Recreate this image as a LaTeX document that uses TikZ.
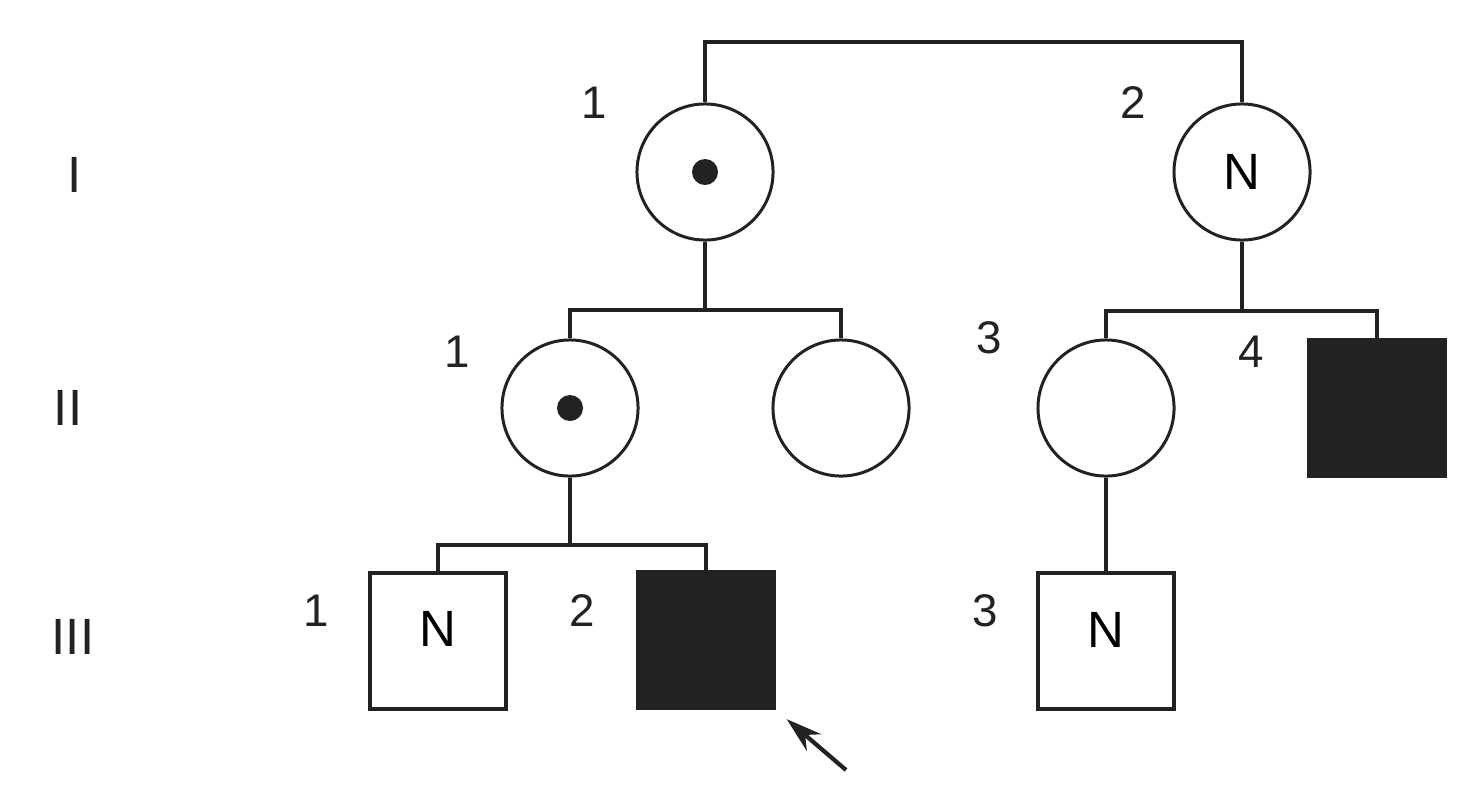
\documentclass[tikz,border=0pt]{standalone}
\usepackage{fontspec}
\setmainfont{Liberation Sans}
\usepackage{xcolor}
\usetikzlibrary{positioning}
\usetikzlibrary{arrows.meta}
\definecolor{ink}{RGB}{34,34,34}

\begin{document}
\begin{tikzpicture}[x=0.01cm, y=-0.01cm, line width=1.1pt, draw=ink,
    female/.style={draw=ink, circle, line width=0.85pt, minimum size=1.36cm, inner sep=0pt, font=\fontsize{14.5}{16}\selectfont},
    male/.style={draw=ink, rectangle, line width=1.1pt, minimum size=1.36cm, inner sep=0pt, font=\fontsize{14.5}{16}\selectfont},
    affected/.style={fill=ink},
    dot/.style={circle, fill=ink, minimum size=0.26cm, inner sep=0pt},
    num/.style={text=ink, font=\fontsize{13}{15}\selectfont},
    gen/.style={text=ink, font=\fontsize{14.5}{16}\selectfont}]
    \useasboundingbox (0,0) rectangle (1474,800);

    % Generation labels
    \node (genI) [gen] at (75,175) {I};
    \node (genII) [gen] at (68,408) {II};
    \node (genIII) [gen] at (73,637) {III};

    % Generation I
    \node (I1) [female] at (705,172) {};
    \node (I1dot) [dot] at (I1) {};
    \node (I2) [female] at (1242,172) {N};
    \node (numI1) [num] at (594,103) {1};
    \node (numI2) [num] at (1133,103) {2};

    % Generation II
    \node (II1) [female] at (570,408) {};
    \node (II1dot) [dot] at (II1) {};
    \node (II2) [female] at (841,408) {};
    \node (II3) [female] at (1106,408) {};
    \node (II4) [male, affected] at (1377,408) {};
    \node (numII1) [num] at (457,352) {1};
    \node (numII3) [num] at (989,338) {3};
    \node (numII4) [num] at (1251,352) {4};

    % Generation III
    \node (III1) [male] at (438,641) {\raisebox{0.9ex}{N}\hspace{0.2cm}};
    \node (III2) [male, affected] at (706,640) {};
    \node (III3) [male] at (1106,641) {\raisebox{0.8ex}{N}};
    \node (numIII1) [num] at (316,611) {1};
    \node (numIII2) [num] at (582,611) {2};
    \node (numIII3) [num] at (985,611) {3};

    % Mating line
    \coordinate (mate) at (707,42);
    \draw (I1) |- (mate) -| (I2);

    % Sibship lines
    \coordinate [below=0.68cm of I1.south] (sib1);
    \coordinate [below=0.69cm of I2.south] (sib2);
    \coordinate [below=0.67cm of II1.south] (sib3);
    \draw (I1) -- (sib1);
    \draw (II1) |- (sib1) -| (II2);
    \draw (I2) -- (sib2);
    \draw (II3) |- (sib2) -| (II4);
    \draw (II1) -- (sib3);
    \draw (III1) |- (sib3) -| (III2);
    \draw (II3) -- (III3);

    % Proband arrow
    \coordinate (arrtail) at (846,770);
    \draw [line width=1.2pt, -{Stealth[length=0.36cm, width=0.22cm]}, shorten >=0.14cm] (arrtail) -- (III2.south east);
\end{tikzpicture}
\end{document}
